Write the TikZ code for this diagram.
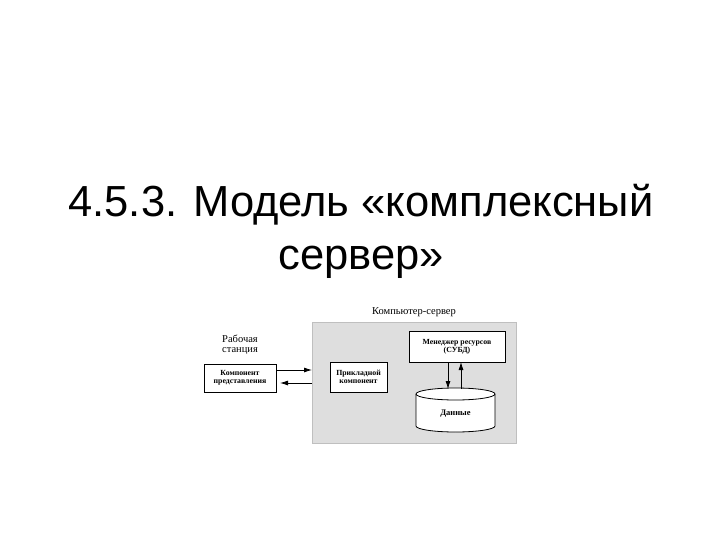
\documentclass[tikz,border=0pt]{standalone}
\usepackage{fontspec}
\setmainfont{Liberation Serif}
\newfontfamily\titlefont{Liberation Sans}
\usetikzlibrary{arrows.meta}
\begin{document}
\begin{tikzpicture}[x=1pt,y=-1pt,
  box/.style={draw,fill=white,line width=0.8pt,align=center,font=\bfseries\fontsize{7.8}{8}\selectfont,inner sep=1pt},
  arr/.style={-{Latex[length=8pt,width=5pt]},line width=0.8pt},
  lbl/.style={align=center,font=\fontsize{10.5}{9.5}\selectfont}]
\useasboundingbox (0,0) rectangle (720,540);
\node[font=\titlefont\fontsize{43.5}{53}\selectfont,align=center] (title) at (361,231) {4.5.3. Модель «комплексный\\сервер»};
\node[fill=black!13,draw=black!25,minimum width=204,minimum height=121,anchor=north west] (srv) at (312,322) {};
\node[lbl] (srvl) at (414,312) {Компьютер-сервер};
\node[lbl] (wsl) at (240,345) {Рабочая\\станция};
\node[box,minimum width=72,minimum height=28] (pres) at (240,378) {Компонент\\представления};
\node[box,minimum width=57,minimum height=30] (app) at (358.5,377) {Прикладной\\компонент};
\node[box,minimum width=96,minimum height=31] (dbms) at (457,346.5) {Менеджер ресурсов\\(СУБД)};
\draw[fill=white,line width=0.8pt] (416,394) -- (416,426) arc[start angle=180,end angle=360,x radius=39.5,y radius=-6] -- (495,394) arc[start angle=0,end angle=180,x radius=39.5,y radius=-6] -- cycle;
\draw[line width=0.8pt] (416,394) arc[start angle=180,end angle=360,x radius=39.5,y radius=-6];
\node[font=\bfseries\fontsize{8.5}{8}\selectfont] (data) at (455.5,414) {Данные};
\coordinate (s1) at (312,370);
\coordinate (s2) at (312,383);
\coordinate (d1) at (448,389);
\coordinate (d2) at (461,389);
\coordinate (m1) at (448,362);
\coordinate (m2) at (461,362);
\draw[arr] (pres.east |- s1) -- (s1);
\draw[arr] (s2) -- (280,383);
\draw[arr] (m1) -- (d1);
\draw[arr] (d2) -- (m2);
\end{tikzpicture}
\end{document}
